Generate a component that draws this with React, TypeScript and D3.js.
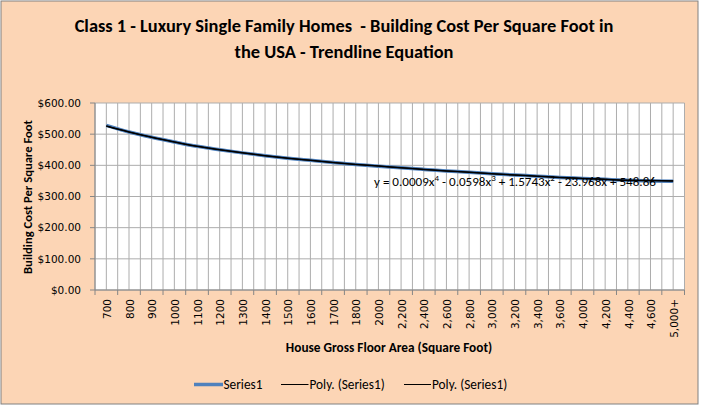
import * as d3 from 'd3'
import React from 'react'

// floor area buckets (x axis categories)
const categories = [
    '700', '800', '900', '1000', '1100', '1200', '1300', '1400', '1500', '1600',
    '1700', '1800', '2000', '2,200', '2,400', '2,600', '2,800', '3,000', '3,200',
    '3,400', '3,600', '4,000', '4,200', '4,400', '4,600', '5,000+',
]

// cost per sq ft
const series1 = [
    528, 507, 490, 475, 461, 450, 440, 431, 423, 416, 409, 403, 397, 392, 387,
    382, 378, 373, 369, 365, 361, 358, 355, 352, 350, 349,
]

// polynomial trendline values (same as the drawn black curve)
const polyTrend = [
    526, 507, 490, 475, 461, 450, 440, 431, 423, 416, 409, 403, 398, 392, 387,
    382, 378, 373, 369, 365, 361, 358, 355, 352, 351, 350,
]

const yTicks = [0, 100, 200, 300, 400, 500, 600]

const width = 701
const height = 406
const plot = { left: 95, right: 684.5, top: 103, bottom: 290 }

const calibri = 'Carlito, Calibri, Lato, sans-serif'
const tahoma = 'Tahoma, "DejaVu Sans", sans-serif'

const App = (): JSX.Element => {
    const x = d3.scaleBand().domain(categories).range([plot.left, plot.right])
    const y = d3.scaleLinear().domain([0, 600]).range([plot.bottom, plot.top])
    const bw = x.bandwidth()
    const cx = (i: number) => (x(categories[i]) as number) + bw / 2

    const seriesLine = d3
        .line<number>()
        .x((_, i) => cx(i))
        .y((d) => y(d))
        .curve(d3.curveMonotoneX)

    // vertical grid every half category
    const vGrid: number[] = []
    categories.forEach((c) => {
        const x0 = x(c) as number
        vGrid.push(x0, x0 + bw / 2)
    })
    vGrid.push(plot.right)

    return (
        <svg
            width={width}
            height={height}
            style={{ position: 'absolute', left: 0, top: 0, display: 'block' }}
        >
            <rect x={1} y={1} width={697} height={403} fill="#FCD5B5" stroke="#808080" />

            {/* title */}
            <text
                x={344}
                fontFamily={calibri}
                fontWeight="bold"
                fontSize={18.4}
                textAnchor="middle"
                fill="#000"
            >
                <tspan x={344} y={32} style={{ whiteSpace: 'pre' }}>
                    Class 1 - Luxury Single Family Homes  - Building Cost Per Square Foot in
                </tspan>
                <tspan x={344} y={58}>
                    the USA - Trendline Equation
                </tspan>
            </text>

            {/* plot area */}
            <rect
                x={plot.left}
                y={plot.top}
                width={plot.right - plot.left}
                height={plot.bottom - plot.top}
                fill="#fff"
            />
            {vGrid.map((gx, i) => (
                <line key={`v${i}`} x1={gx} x2={gx} y1={plot.top} y2={plot.bottom} stroke="#ADADAD" strokeWidth={1} />
            ))}
            {yTicks.map((t) => (
                <line key={`h${t}`} x1={plot.left} x2={plot.right} y1={y(t)} y2={y(t)} stroke="#ADADAD" strokeWidth={1} />
            ))}

            {/* axes */}
            <line x1={plot.left} x2={plot.left} y1={plot.top} y2={plot.bottom} stroke="#868686" />
            <line x1={plot.left} x2={plot.right} y1={plot.bottom} y2={plot.bottom} stroke="#868686" />
            {yTicks.map((t) => (
                <g key={`yt${t}`}>
                    <line x1={plot.left - 5} x2={plot.left} y1={y(t)} y2={y(t)} stroke="#868686" />
                    <text
                        x={81}
                        y={y(t)}
                        dy="0.35em"
                        textAnchor="end"
                        fontFamily={tahoma}
                        fontSize={10.5}
                        fill="#000"
                    >
                        {d3.format('$.2f')(t)}
                    </text>
                </g>
            ))}
            {categories.map((c) => (
                <line
                    key={`xt${c}`}
                    x1={x(c) as number}
                    x2={x(c) as number}
                    y1={plot.bottom}
                    y2={plot.bottom + 5}
                    stroke="#868686"
                />
            ))}
            <line x1={plot.right} x2={plot.right} y1={plot.bottom} y2={plot.bottom + 5} stroke="#868686" />
            {categories.map((c, i) => (
                <text
                    key={`xl${c}`}
                    transform={`translate(${cx(i) + 1},299) rotate(-90)`}
                    dy="0.35em"
                    textAnchor="end"
                    fontFamily={tahoma}
                    fontSize={10.5}
                    fill="#000"
                >
                    {c}
                </text>
            ))}

            {/* axis titles */}
            <text
                transform="translate(32,197) rotate(-90)"
                textAnchor="middle"
                fontFamily={calibri}
                fontWeight="bold"
                fontSize={12.6}
                fill="#000"
            >
                Building Cost Per Square Foot
            </text>
            <text
                x={389}
                y={352}
                textAnchor="middle"
                fontFamily={calibri}
                fontWeight="bold"
                fontSize={13.3}
                fill="#000"
            >
                House Gross Floor Area (Square Foot)
            </text>

            {/* series */}
            <path d={seriesLine(series1) as string} fill="none" stroke="#4F81BD" strokeWidth={3.5} />
            <path d={seriesLine(polyTrend) as string} fill="none" stroke="#000" strokeWidth={1.5} />
            <path d={seriesLine(polyTrend) as string} fill="none" stroke="#000" strokeWidth={1} />

            {/* trendline equation */}
            <text x={374} y={186} fontFamily={calibri} fontSize={13.1} fill="#000">
                y = 0.0009x<tspan dy={-5} fontSize={9}>4</tspan>
                <tspan dy={5}> - 0.0598x</tspan>
                <tspan dy={-5} fontSize={9}>3</tspan>
                <tspan dy={5}> + 1.5743x</tspan>
                <tspan dy={-5} fontSize={9}>2</tspan>
                <tspan dy={5}> - 23.968x + 548.86</tspan>
            </text>

            {/* legend */}
            <g fontFamily={calibri} fontSize={13.3} fill="#000">
                <line x1={194} x2={223} y1={384.5} y2={384.5} stroke="#4F81BD" strokeWidth={3.5} />
                <text x={223.5} y={388.5}>Series1</text>
                <line x1={281} x2={308.5} y1={384.5} y2={384.5} stroke="#000" strokeWidth={1} />
                <text x={309.5} y={388.5}>Poly. (Series1)</text>
                <line x1={404} x2={431} y1={384.5} y2={384.5} stroke="#000" strokeWidth={1} />
                <text x={432} y={388.5}>Poly. (Series1)</text>
            </g>
        </svg>
    )
}

export default App
